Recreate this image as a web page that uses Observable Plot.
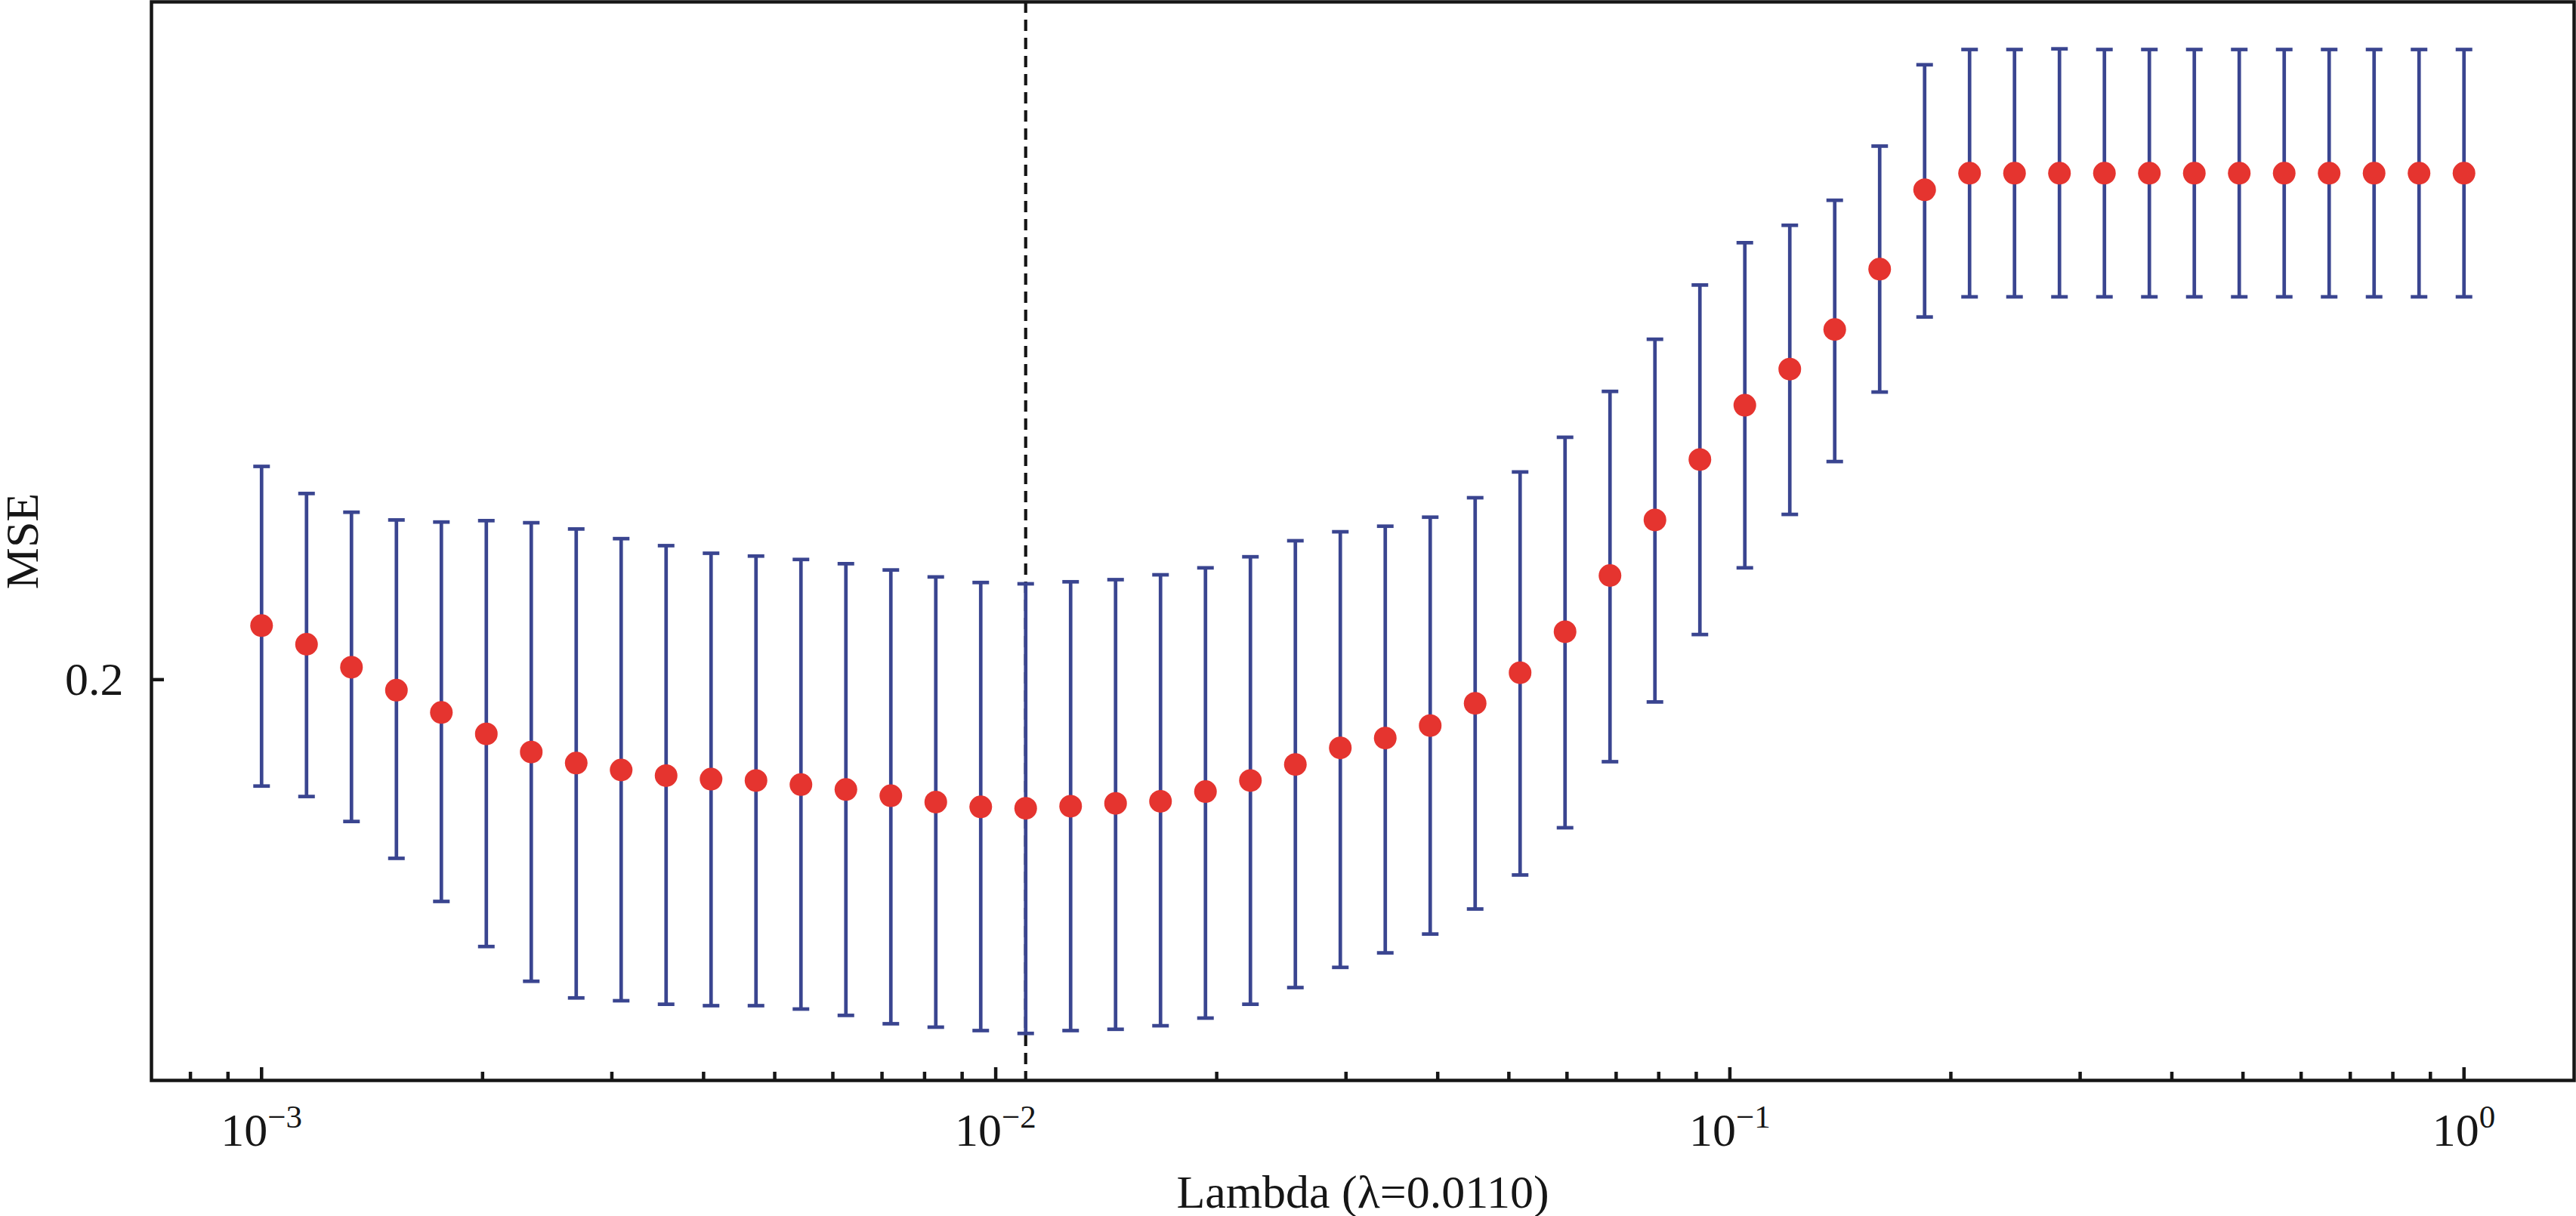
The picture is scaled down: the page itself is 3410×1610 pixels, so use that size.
<!DOCTYPE html>
<html>
<head>
<meta charset="utf-8">
<script src="https://cdn.jsdelivr.net/npm/d3@7"></script>
<script src="https://cdn.jsdelivr.net/npm/@observablehq/plot@0.6"></script>
<style>
  html, body { margin: 0; padding: 0; background: #ffffff; }
  #chart svg { display: block; }
</style>
</head>
<body>
<div id="chart"></div>
<script>
// ---- data ----
const lambdas = [
  0.001, 0.0011514, 0.00132571, 0.00152642, 0.00175751, 0.00202359, 0.00232995, 0.0026827,
  0.00308884, 0.00355648, 0.00409492, 0.00471487, 0.00542868, 0.00625055, 0.00719686, 0.00828643,
  0.00954095, 0.01098541, 0.01264855, 0.01456348, 0.01676833, 0.01930698, 0.02222996, 0.02559548,
  0.02947052, 0.03393222, 0.0390694, 0.04498433, 0.05179475, 0.05963623, 0.06866488, 0.07906043,
  0.09102982, 0.10481131, 0.12067926, 0.13894955, 0.15998587, 0.18420699, 0.21209509, 0.24420531,
  0.28117687, 0.32374575, 0.37275937, 0.42919343, 0.49417134, 0.5689866, 0.65512856, 0.75431201,
  0.86851137, 1.0
];
const mseMean = [
  0.20443, 0.20289, 0.20101, 0.19915, 0.19736, 0.19565, 0.19422, 0.19335, 0.19281, 0.19237,
  0.19210, 0.19199, 0.19167, 0.19129, 0.19081, 0.19032, 0.18995, 0.18984, 0.19000, 0.19022,
  0.19038, 0.19113, 0.19199, 0.19324, 0.19455, 0.19532, 0.19631, 0.19809, 0.20056, 0.20392,
  0.20862, 0.21337, 0.21866, 0.22352, 0.22682, 0.23049, 0.23620, 0.24391, 0.24556, 0.24556,
  0.24556, 0.24556, 0.24556, 0.24556, 0.24556, 0.24556, 0.24556, 0.24556, 0.24556, 0.24556
];
const mseUpper = [
  0.21805, 0.21567, 0.21404, 0.21337, 0.21319, 0.21331, 0.21313, 0.21259, 0.21176, 0.21116,
  0.21051, 0.21027, 0.20998, 0.20962, 0.20909, 0.20850, 0.20803, 0.20792, 0.20809, 0.20827,
  0.20868, 0.20927, 0.21021, 0.21158, 0.21235, 0.21283, 0.21361, 0.21530, 0.21756, 0.22064,
  0.22478, 0.22958, 0.23468, 0.23874, 0.24043, 0.24288, 0.24827, 0.25659, 0.25818, 0.25818,
  0.25825, 0.25818, 0.25818, 0.25818, 0.25818, 0.25818, 0.25818, 0.25818, 0.25818, 0.25818
];
const mseLower = [
  0.19156, 0.19075, 0.18883, 0.18603, 0.18281, 0.17950, 0.17699, 0.17580, 0.17560, 0.17535,
  0.17525, 0.17525, 0.17501, 0.17456, 0.17397, 0.17373, 0.17349, 0.17329, 0.17349, 0.17358,
  0.17383, 0.17437, 0.17535, 0.17654, 0.17799, 0.17904, 0.18041, 0.18225, 0.18478, 0.18835,
  0.19346, 0.19820, 0.20369, 0.20927, 0.21385, 0.21848, 0.22472, 0.23166, 0.23356, 0.23356,
  0.23356, 0.23356, 0.23356, 0.23356, 0.23356, 0.23356, 0.23356, 0.23356, 0.23356, 0.23356
];
const bestLambda = 0.01098541;
const xLabel = "Lambda (\u03BB=0.0110)";
const yLabel = "MSE";
const xMajorTicks = [0.001, 0.01, 0.1, 1];
const xTickExponents = ["\u22123", "\u22122", "\u22121", "0"];
const xMinorTicks = [
  0.0008, 0.0009,
  0.002, 0.003, 0.004, 0.005, 0.006, 0.007, 0.008, 0.009,
  0.02, 0.03, 0.04, 0.05, 0.06, 0.07, 0.08, 0.09,
  0.2, 0.3, 0.4, 0.5, 0.6, 0.7, 0.8, 0.9
];
const yTicks = [0.2];
const yTickLabels = ["0.2"];

// ---- styles ----
const barColor = "#3a4590";
const dotColor = "#e5342f";
const inkColor = "#161616";
const fontFamily = "'Liberation Serif', 'Times New Roman', serif";

const data = lambdas.map((x, i) => ({lambda: x, mean: mseMean[i], upper: mseUpper[i], lower: mseLower[i]}));
const majorTicks = xMajorTicks.map((v, i) => ({v, exp: xTickExponents[i]}));
const negTicks = majorTicks.filter(d => d.exp !== "0");
const zeroTicks = majorTicks.filter(d => d.exp === "0");
const yTickData = yTicks.map((v, i) => ({v, label: yTickLabels[i]}));

const capSymbol = {
  draw(context, size) {
    const r = Math.sqrt(size / Math.PI);
    context.moveTo(-r, 0);
    context.lineTo(r, 0);
  }
};

const chart = Plot.plot({
  width: 3410,
  height: 1610,
  marginLeft: 200,
  marginRight: 3,
  marginTop: 2,
  marginBottom: 180,
  style: {background: "#ffffff", fontFamily, color: inkColor, overflow: "visible"},
  x: {type: "log", domain: [0.00070795, 1.41254]},
  y: {type: "log", domain: [0.17002, 0.26321]},
  marks: [
    Plot.ruleX([bestLambda], {stroke: inkColor, strokeWidth: 4.2, strokeDasharray: "15,9"}),
    Plot.ruleX(data, {x: "lambda", y1: "lower", y2: "upper", stroke: barColor, strokeWidth: 4.7}),
    Plot.dot(data, {x: "lambda", y: "upper", r: 11, symbol: capSymbol, stroke: barColor, strokeWidth: 4.7, fill: "none"}),
    Plot.dot(data, {x: "lambda", y: "lower", r: 11, symbol: capSymbol, stroke: barColor, strokeWidth: 4.7, fill: "none"}),
    Plot.dot(data, {x: "lambda", y: "mean", r: 15, fill: dotColor, stroke: "none"}),
    // inward ticks
    Plot.axisX(xMajorTicks, {anchor: "bottom", tickSize: -17, strokeWidth: 4.5, stroke: inkColor, tickFormat: () => "", label: null}),
    Plot.axisX(xMinorTicks, {anchor: "bottom", tickSize: -11, strokeWidth: 4.5, stroke: inkColor, tickFormat: () => "", label: null}),
    Plot.axisY(yTicks, {anchor: "left", tickSize: -17, strokeWidth: 4.5, stroke: inkColor, tickFormat: () => "", label: null}),
    // x tick labels: 10 with superscript exponent
    Plot.text(negTicks, {x: "v", frameAnchor: "bottom", text: () => "10", textAnchor: "end", lineAnchor: "bottom", dx: 8, dy: 86, fontSize: 62, fill: inkColor}),
    Plot.text(negTicks, {x: "v", frameAnchor: "bottom", text: "exp", textAnchor: "start", lineAnchor: "bottom", dx: 8, dy: 62, fontSize: 43, fill: inkColor}),
    Plot.text(zeroTicks, {x: "v", frameAnchor: "bottom", text: () => "10", textAnchor: "end", lineAnchor: "bottom", dx: 20, dy: 86, fontSize: 62, fill: inkColor}),
    Plot.text(zeroTicks, {x: "v", frameAnchor: "bottom", text: "exp", textAnchor: "start", lineAnchor: "bottom", dx: 20, dy: 62, fontSize: 43, fill: inkColor}),
    // y tick label
    Plot.text(yTickData, {y: "v", frameAnchor: "left", text: "label", textAnchor: "end", lineAnchor: "middle", dx: -37, fontSize: 62, fill: inkColor}),
    // axis labels
    Plot.text([xLabel], {frameAnchor: "bottom", text: d => d, textAnchor: "middle", lineAnchor: "bottom", dy: 168, fontSize: 62, fill: inkColor}),
    Plot.text([yLabel], {frameAnchor: "left", text: d => d, textAnchor: "middle", lineAnchor: "bottom", rotate: -90, dx: -151, fontSize: 62, fill: inkColor}),
    Plot.frame({stroke: inkColor, strokeWidth: 4.5})
  ]
});
document.getElementById("chart").appendChild(chart);
</script>
</body>
</html>
